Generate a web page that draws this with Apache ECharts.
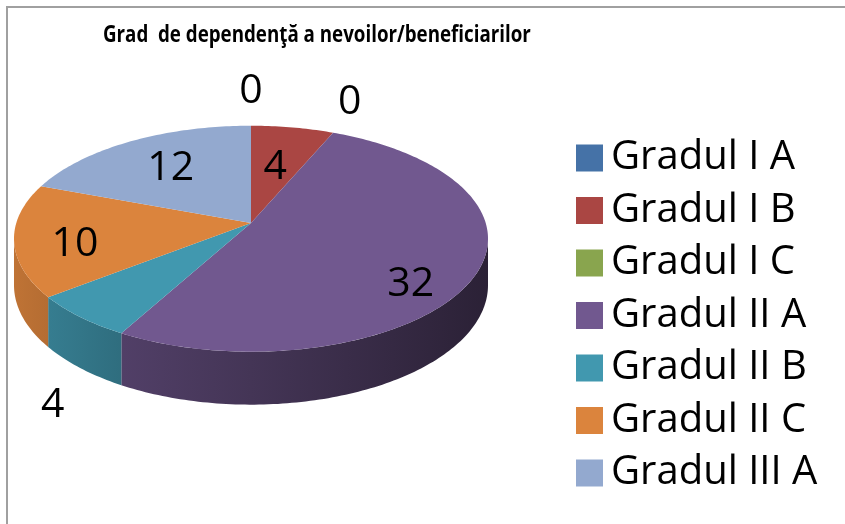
<!DOCTYPE html>
<html>
<head>
<meta charset="utf-8">
<script src="https://cdn.jsdelivr.net/npm/echarts@6/dist/echarts.min.js"></script>
<style>
  html, body { margin: 0; padding: 0; background: #fff; }
  #chart { width: 845px; height: 524px; }
</style>
</head>
<body>
<div id="chart"></div>
<script>
// data
var categories = ['Gradul I A', 'Gradul I B', 'Gradul I C', 'Gradul II A', 'Gradul II B', 'Gradul II C', 'Gradul III A'];
var values = [0, 4, 0, 32, 4, 10, 12];
var colors = ['#4572A7', '#AA4643', '#89A54E', '#71588F', '#4198AF', '#DB843D', '#93A9CF'];
var labelPlacement = ['outside', 'inside', 'outside', 'inside', 'outside', 'inside', 'inside'];
var titleText = 'Grad  de dependenţă a nevoilor/beneficiarilor';

// tilted pie (perspective) geometry
var pie = { cx: 251, cy: 223, rx: 234.7, ry: 110.8, k: 0.139, depth: 45.6 };
var total = values.reduce(function (a, b) { return a + b; }, 0);

function proj(theta, r, d) {
  var X = r * Math.sin(theta), Z = r * Math.cos(theta);
  var s = 1 / (1 + pie.k * Z);
  return [pie.cx + pie.rx * X * s, pie.cy + (-pie.ry * Z + pie.depth * d) * s];
}

function shade(hex, f) {
  var n = parseInt(hex.slice(1), 16);
  var r = Math.round(((n >> 16) & 255) * f), g = Math.round(((n >> 8) & 255) * f), b = Math.round((n & 255) * f);
  return 'rgb(' + r + ',' + g + ',' + b + ')';
}

function arc(a0, a1, d) {
  var pts = [];
  var steps = Math.max(2, Math.ceil((a1 - a0) / (Math.PI / 180)));
  for (var i = 0; i <= steps; i++) pts.push(proj(a0 + (a1 - a0) * i / steps, 1, d));
  return pts;
}

function renderItem(params, api) {
  var idx = params.dataIndex;
  var before = 0;
  for (var i = 0; i < idx; i++) before += values[i];
  var a0 = before / total * Math.PI * 2;
  var a1 = (before + values[idx]) / total * Math.PI * 2;
  var mid = (a0 + a1) / 2;
  var color = colors[idx];
  var children = [];

  if (values[idx] > 0) {
    // outer wall, only the part that faces the viewer
    var vis0 = Math.acos(-pie.k), vis1 = Math.PI * 2 - vis0;
    var w0 = Math.max(a0, vis0), w1 = Math.min(a1, vis1);
    if (w1 > w0) {
      var top = arc(w0, w1, 0);
      var bottom = arc(w0, w1, 1).reverse();
      children.push({
        type: 'polygon',
        z2: 1,
        shape: { points: top.concat(bottom) },
        style: {
          fill: new echarts.graphic.LinearGradient(14, 0, 488, 0, [
            { offset: 0, color: shade(color, 0.87) },
            { offset: 0.23, color: shade(color, 0.72) },
            { offset: 0.5, color: shade(color, 0.6) },
            { offset: 1, color: shade(color, 0.38) }
          ], true)
        }
      });
    }
    // top face
    children.push({
      type: 'polygon',
      z2: 10,
      shape: { points: [[pie.cx, pie.cy]].concat(arc(a0, a1, 0)) },
      style: { fill: color }
    });
  }

  // data label
  var lx, ly;
  if (labelPlacement[idx] === 'inside') {
    var r = 0.5 + 0.25 * Math.abs(Math.sin(mid));
    var p = proj(mid, r, 0);
    lx = p[0];
    ly = p[1] + pie.depth * 1.2 * Math.max(0, -Math.cos(mid));
  } else {
    var q = proj(mid, 1, Math.cos(mid) < 0 ? 1 : 0);
    lx = q[0] + 42 * Math.sin(mid);
    ly = q[1] - 42 * Math.cos(mid) + (Math.cos(mid) < 0 ? 6 : 8);
  }
  children.push({
    type: 'text',
    z2: 30,
    x: lx,
    y: ly,
    style: {
      text: String(values[idx]),
      fontSize: 41,
      fontFamily: 'Open Sans',
      fill: '#000',
      align: 'center',
      verticalAlign: 'middle'
    }
  });

  return { type: 'group', children: children };
}

var chart = echarts.init(document.getElementById('chart'));

var option = {
  animation: false,
  backgroundColor: '#fff',
  color: colors,
  legend: {
    orient: 'vertical',
    left: 571,
    top: 133,
    height: 420,
    icon: 'rect',
    itemWidth: 27,
    itemHeight: 27,
    itemGap: 12.5,
    selectedMode: false,
    data: categories,
    textStyle: {
      fontFamily: 'Open Sans',
      fontSize: 40,
      color: '#000',
      padding: [0, 0, 0, 3]
    }
  },
  graphic: [{
    type: 'rect',
    silent: true,
    shape: { x: 7, y: 7, width: 900, height: 600 },
    style: { fill: null, stroke: '#a0a0a0', lineWidth: 2 }
  }, {
    // chart title, narrowed to the width it has in the picture
    type: 'text',
    silent: true,
    x: 103,
    y: 35,
    scaleX: 0.815,
    style: {
      text: titleText,
      fontFamily: 'Open Sans',
      fontSize: 23,
      fontWeight: 'bold',
      fill: '#000',
      align: 'left',
      verticalAlign: 'middle'
    }
  }],
  series: [
    {
      // hidden pie, only feeds the legend
      type: 'pie',
      silent: true,
      center: [-1000, -1000],
      radius: 1,
      label: { show: false },
      labelLine: { show: false },
      data: categories.map(function (c, i) { return { name: c, value: values[i] }; })
    },
    {
      type: 'custom',
      coordinateSystem: 'none',
      silent: true,
      renderItem: renderItem,
      data: values.map(function (v, i) { return { name: categories[i], value: v }; })
    }
  ]
};

chart.setOption(option);
</script>
</body>
</html>
